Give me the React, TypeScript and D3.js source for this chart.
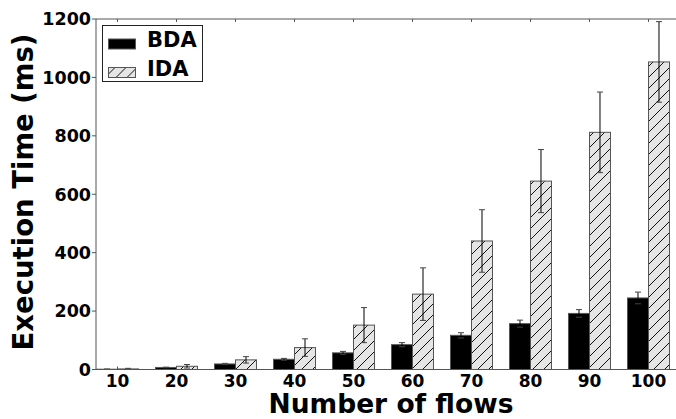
import * as d3 from 'd3';

const flows = ['10', '20', '30', '40', '50', '60', '70', '80', '90', '100'];
const bdaMean = [1, 7, 19, 35, 57, 85, 117, 157, 192, 245];
const bdaErr = [0.5, 1, 2, 3, 5, 7, 9, 12, 13, 20];
const idaMean = [2, 11, 33, 75, 152, 258, 440, 645, 812, 1053];
const idaErr = [2, 6, 11, 30, 60, 90, 107, 108, 138, 138];
const yTicks = [0, 200, 400, 600, 800, 1000, 1200];
const seriesNames = ['BDA', 'IDA'];

const W = 676;
const H = 419;
const LEFT = 96;
const TOP = 19;
const BOTTOM = 369.5;
const FONT = 'DejaVu Sans, sans-serif';
const SPINE = '#555';

export default function App() {
  const x = d3.scaleBand<string>().domain(flows).range([96.5, 669.5]).paddingInner(0.288).paddingOuter(0);
  const xs = d3.scaleBand<string>().domain(seriesNames).range([0, x.bandwidth()]);
  const y = d3.scaleLinear().domain([0, 1200]).range([BOTTOM, TOP]);

  const series = [
    { name: 'BDA', mean: bdaMean, err: bdaErr, fill: '#000' },
    { name: 'IDA', mean: idaMean, err: idaErr, fill: 'url(#hatch)' },
  ];

  return (
    <div style={{ position: 'fixed', left: 0, top: 0 }}>
      <svg width={W} height={H} style={{ display: 'block', background: '#fff' }}>
        <defs>
          <pattern id="hatch" patternUnits="userSpaceOnUse" width={11} height={11}>
            <rect width={11} height={11} fill="#e5e5e5" />
            <path d="M-1,1 l2,-2 M0,11 l11,-11 M10,12 l2,-2" stroke="#111" strokeWidth={1} />
          </pattern>
        </defs>

        {/* bars */}
        {series.map((s) => (
          <g key={s.name}>
            {flows.map((f, i) => (
              <rect
                key={f}
                x={(x(f) ?? 0) + (xs(s.name) ?? 0)}
                y={y(s.mean[i])}
                width={xs.bandwidth()}
                height={BOTTOM - y(s.mean[i])}
                fill={s.fill}
                stroke={SPINE}
                strokeWidth={1}
              />
            ))}
          </g>
        ))}

        {/* error bars */}
        {series.map((s) => (
          <g key={s.name + '-err'}>
            {flows.map((f, i) => {
              const cx = (x(f) ?? 0) + (xs(s.name) ?? 0) + xs.bandwidth() / 2;
              const y1 = y(s.mean[i] - s.err[i]);
              const y2 = y(s.mean[i] + s.err[i]);
              return (
                <g key={f}>
                  <line x1={cx} x2={cx} y1={y1} y2={y2} stroke="#000" strokeWidth={1} />
                  <line x1={cx - 3} x2={cx + 3} y1={y1} y2={y1} stroke="#444" strokeWidth={1} />
                  <line x1={cx - 3} x2={cx + 3} y1={y2} y2={y2} stroke="#444" strokeWidth={1} />
                </g>
              );
            })}
          </g>
        ))}

        {/* spines */}
        <line x1={LEFT} x2={LEFT} y1={TOP} y2={BOTTOM} stroke={SPINE} strokeWidth={1} />
        <line x1={LEFT} x2={W + 5} y1={TOP} y2={TOP} stroke={SPINE} strokeWidth={1} />
        <line x1={LEFT} x2={W + 5} y1={BOTTOM} y2={BOTTOM} stroke={SPINE} strokeWidth={1} />

        {/* y ticks */}
        {yTicks.map((v) => (
          <g key={v}>
            <line x1={LEFT - 4} x2={LEFT} y1={y(v)} y2={y(v)} stroke={SPINE} strokeWidth={1} />
            <text
              x={LEFT - 5}
              y={y(v)}
              dy="0.36em"
              textAnchor="end"
              fontSize={17.5}
              fontWeight="bold"
              fontFamily={FONT}
            >
              {v}
            </text>
          </g>
        ))}

        {/* x ticks */}
        {flows.map((f) => {
          const cx = (x(f) ?? 0) + x.bandwidth() / 2;
          return (
            <g key={f}>
              <line x1={cx} x2={cx} y1={TOP} y2={TOP + 3} stroke={SPINE} strokeWidth={1} />
              <line x1={cx} x2={cx} y1={BOTTOM} y2={BOTTOM - 3} stroke={SPINE} strokeWidth={1} />
              <text x={cx} y={386.5} textAnchor="middle" fontSize={17} fontWeight="bold" fontFamily={FONT}>
                {f}
              </text>
            </g>
          );
        })}

        {/* axis titles */}
        <text x={391} y={413} textAnchor="middle" fontSize={26.5} fontWeight="bold" fontFamily={FONT}>
          Number of flows
        </text>
        <text
          transform="rotate(-90)"
          x={-192}
          y={33}
          textAnchor="middle"
          fontSize={27.5}
          fontWeight="bold"
          fontFamily={FONT}
        >
          Execution Time (ms)
        </text>

        {/* legend */}
        <g>
          <rect x={102.5} y={25.5} width={100} height={56} fill="#fff" stroke="#222" strokeWidth={1} />
          {series.map((s, i) => (
            <g key={s.name} transform={`translate(0,${i * 28.5})`}>
              <rect x={108.5} y={39} width={27} height={10} fill={s.fill} stroke={SPINE} strokeWidth={1} />
              <text x={147} y={47} fontSize={21} fontWeight="bold" fontFamily={FONT}>
                {s.name}
              </text>
            </g>
          ))}
        </g>
      </svg>
    </div>
  );
}
